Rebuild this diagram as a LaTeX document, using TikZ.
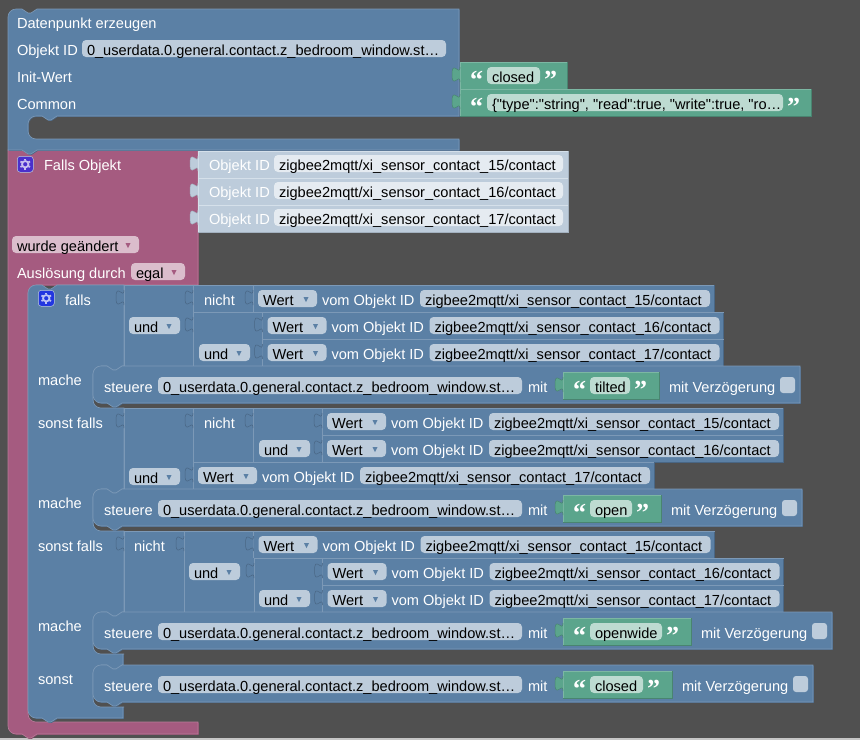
\documentclass[tikz,border=0pt]{standalone}
\usepackage{fontspec}
\setmainfont{Liberation Sans}
\newfontfamily\zitatfont{Liberation Serif}
\newfontfamily\rohfont{Liberation Sans}
\usepackage{tikz}
\usetikzlibrary{positioning}

\definecolor{grund}{HTML}{505050}
\definecolor{blau}{HTML}{5B80A5}
\definecolor{blauhell}{HTML}{7C99B7}
\definecolor{blaudunkel}{HTML}{496684}
\definecolor{rosa}{HTML}{A55B80}
\definecolor{rosahell}{HTML}{B77C99}
\definecolor{rosadunkel}{HTML}{844966}
\definecolor{gruen}{HTML}{5BA58C}
\definecolor{gruenhell}{HTML}{7CB7A3}
\definecolor{gruendunkel}{HTML}{498470}
\definecolor{objekt}{HTML}{BDCCDB}
\definecolor{objekthell}{HTML}{D5E0EA}
\definecolor{objektdunkel}{HTML}{A3B1BF}
\definecolor{feldblau}{HTML}{BDCCDB}
\definecolor{feldhell}{HTML}{E5EBF1}
\definecolor{feldgruen}{HTML}{BDDBD1}
\definecolor{feldrosa}{HTML}{DBBDCC}
\definecolor{knopfviolett}{HTML}{4A30CC}
\definecolor{knopfblau}{HTML}{2236E0}

% Wertblock: Farbe, x, y, x2, y2
\newcommand{\wertblock}[5]{
	\fill[#1] (#2,#3) rectangle (#4,#5);
	\draw[#1dunkel, line width=.8pt] (#2,#5) -- (#4,#5) -- (#4,#3);
	\draw[#1hell, line width=.8pt] (#2,#5) -- (#2,#3) -- (#4,#3);
	\draw[fill=#1, draw=#1dunkel, line width=.5pt] (#2,#3+5) .. controls (#2,#3+15) and (#2-8,#3-3) .. (#2-8,#3+12.5)
	.. controls (#2-8,#3+28) and (#2,#3+10) .. (#2,#3+20);
}
% Auswahlfeld: Name, x, Grundlinie, Breite, Feldfarbe, Pfeilfarbe, Text
\newcommand{\auswahl}[7]{
	\node[feld, fill=#5] (#1) at (#2,#3) {\makebox[\dimexpr#4pt-10pt\relax][l]{#7}};
	\fill[#6] (#2+#4-13.5,#3-8) -- ++(5,0) -- ++(-2.5,5) -- cycle;
}
% Objektzeile: Nummer, x, y, Sensor
\newcommand{\wertzeile}[4]{
	\wertblock{blau}{#2}{#3}{#2+461}{#3+27}
	\auswahl{wert#1}{#2+5}{#3+20}{59}{feldblau}{blau}{Wert}
	\node[schrift] (vom#1) at (#2+69,#3+20) {vom Objekt ID};
	\node[feld, fill=feldblau] (pfad#1) at (#2+167,#3+20) {\makebox[280pt][l]{zigbee2mqtt/xi\_sensor\_contact\_#4/contact}};
}
% Textblock: Name, x, y, Feldbreite, x2, Text
\newcommand{\textblock}[6]{
	\wertblock{gruen}{#2}{#3}{#5}{#3+27}
	\node[zitat] (#1auf) at (#2+10,#3+26) {“};
	\node[feld, fill=feldgruen] (#1) at (#2+27,#3+20) {\makebox[\dimexpr#4pt-10pt\relax][l]{#6}};
	\node[zitat] (#1zu) at (#2+27+#4+4,#3+26) {”};
}
% Steuern: Nummer, y, x des gruenen Endes, Feldbreite, Text
\newcommand{\steuere}[5]{
	\draw[block=blau] (93,#2+8) [ecke_ol] -- (107,#2) [kerbe] -- (#3+141,#2) -- (#3+141,#2+37)
	-- (122,#2+37) [kerbe_links] -- (101,#2+37) [ecke_ul] -- cycle;
	\node[schrift] (steuere#1) at (104,#2+26) {steuere};
	\node[feld, fill=feldblau] (ziel#1) at (158,#2+26) {\makebox[354pt][l]{0\_userdata.0.general.contact.z\_bedroom\_window.st…}};
	\node[schrift] (mit#1) at (528,#2+26) {mit};
	\textblock{wert_s#1}{563}{#2+6}{#4}{#3}{#5}
	\node[schrift] (verz#1) at (#3+10,#2+26) {mit Verzögerung};
	\draw[fill=feldblau, draw=none, rounded corners=3pt] (#3+121,#2+11) rectangle (#3+136,#2+27);
}
% Zahnrad: Name, x, y, Farbe
\newcommand{\zahnrad}[4]{
	\node[draw=feldblau, fill=#4, rounded corners=3pt, minimum size=16pt, line width=.5pt, inner sep=0pt, anchor=north west] (#1) at (#2,#3) {};
	\draw[white!70!#4, line width=1.8pt] (#1) circle[radius=3.2];
	\foreach \w in {30,90,...,330} {
		\draw[white!70!#4, line width=1.8pt] (#1) ++(\w:3.8) -- ++(\w:1.7);
	}
}

\begin{document}
\begin{tikzpicture}[x=1pt, y=-1pt,
	every node/.style={font=\fontsize{14.6}{16}\selectfont},
	% --- Stile ---
	schrift/.style={text=white, anchor=base west, inner sep=0pt, outer sep=0pt},
	feld/.style={
		anchor=base west,
		rounded corners=4pt,
		inner xsep=5pt,
		inner ysep=0pt,
		outer sep=0pt,
		text height=15pt,
		text depth=2pt,
		text=black
	},
	zitat/.style={text=white, anchor=base west, inner sep=0pt, font=\zitatfont\bfseries\fontsize{26}{26}\selectfont},
	block/.style={
		preaction={fill=#1dunkel, transform canvas={xshift=.8pt, yshift=-.8pt}},
		fill=#1,
		draw=#1hell,
		line width=.6pt
	},
	kerbe/.style={insert path={-- ++(6,4) -- ++(3,0) -- ++(6,-4)}},
	kerbe_links/.style={insert path={-- ++(-6,4) -- ++(-3,0) -- ++(-6,-4)}},
	ecke_ol/.style={insert path={arc[start angle=180, end angle=270, radius=8]}},
	ecke_ul/.style={insert path={arc[start angle=90, end angle=180, radius=8]}},
	ecke_il/.style={insert path={arc[start angle=270, end angle=180, radius=8]}},
	ecke_iu/.style={insert path={arc[start angle=180, end angle=90, radius=8]}},
	% Aussparung im falls-Block
	luecke/.style={insert path={-- (122,#1) [kerbe_links] -- (101,#1) [ecke_il] -- (93,#1+34) [ecke_iu] -- (124,#1+42)}}
	]
	% 1. Hintergrund
	\fill[grund] (0,0) rectangle (860,740);
	\useasboundingbox (0,0) rectangle (860,740);
	\fill[gray!45] (0,738) rectangle (860,740);

	% 2. Block "Falls Objekt"
	\draw[block=rosa] (8,150) -- (198,150) -- (198,285) -- (36,285) [ecke_il] -- (28,714) [ecke_iu]
	-- (198,722) -- (198,734) -- (37,734) [kerbe_links] -- (16,734) [ecke_ul] -- cycle;

	% 3. Block "Datenpunkt erzeugen"
	\draw[block=blau] (8,17) [ecke_ol] -- (22,9) [kerbe] -- (459,9) -- (459,116) -- (57,116) [kerbe_links]
	-- (36,116) [ecke_il] -- (28,131) [ecke_iu] -- (459,139) -- (459,150) -- (37,150) [kerbe_links] -- (8,150) -- cycle;
	\node[schrift] (titel) at (17,28) {Datenpunkt erzeugen};
	\node[schrift] (objektid) at (17,55) {Objekt ID};
	\node[feld, fill=feldblau] (objektwert) at (82,55) {\makebox[354pt][l]{0\_userdata.0.general.contact.z\_bedroom\_window.st…}};
	\node[schrift] (initwert) at (17,82) {Init-Wert};
	\node[schrift] (common) at (17,109) {Common};
	\textblock{init}{460}{62}{53}{567}{closed}
	\textblock{rechte}{460}{89}{296}{811}{\rohfont\{"type":"string", "read":true, "write":true, "ro…}

	% 4. Inhalt von "Falls Objekt"
	\zahnrad{zahnrad_falls}{17}{156}{knopfviolett}
	\node[schrift] (falls_objekt) at (44,170) {Falls Objekt};
	\foreach \nr/\zy in {15/151, 16/178, 17/205} {
		\wertblock{objekt}{198}{\zy}{568}{\zy+27}
		\node[schrift] (oid\nr) at (209,\zy+19) {Objekt ID};
		\node[feld, fill=feldhell] (opfad\nr) at (274,\zy+19) {\makebox[279pt][l]{zigbee2mqtt/xi\_sensor\_contact\_\nr/contact}};
	}
	\auswahl{geaendert}{12}{251}{127}{feldrosa}{rosa}{wurde geändert}
	\node[schrift] (ausloesung) at (17,278) {Auslösung durch};
	\auswahl{egal}{131}{278}{54}{feldrosa}{rosa}{egal}

	% 5. Block "falls"
	\draw[block=blau] (28,293) [ecke_ol] -- (42,285) [kerbe] -- (124,285) -- (124,366) [luecke=366]
	-- (124,489) [luecke=489] -- (124,612) [luecke=612] -- (123,654) -- (123,665) [luecke=665]
	-- (123,707) -- (123,718) -- (57,718) [kerbe_links] -- (36,718) [ecke_ul] -- cycle;
	\zahnrad{zahnrad_wenn}{38}{290}{knopfblau}
	\node[schrift] (falls) at (65,305) {falls};
	\node[schrift] (mache1) at (38,385) {mache};
	\node[schrift] (sonstfalls1) at (38,428) {sonst falls};
	\node[schrift] (mache2) at (38,508) {mache};
	\node[schrift] (sonstfalls2) at (38,551) {sonst falls};
	\node[schrift] (mache3) at (38,631) {mache};
	\node[schrift] (sonst) at (38,684) {sonst};

	% 6. Bedingung 1
	\wertblock{blau}{124}{285}{193}{366}
	\auswahl{und1}{129}{332}{51}{feldblau}{blau}{und}
	\wertblock{blau}{193}{285}{253}{312}
	\node[schrift] (nicht1) at (204,305) {nicht};
	\wertzeile{1}{253}{285}{15}
	\wertblock{blau}{193}{312}{263}{366}
	\auswahl{und2}{199}{359}{51}{feldblau}{blau}{und}
	\wertzeile{2}{262.5}{312}{16}
	\wertzeile{3}{262.5}{339}{17}

	% 7. Bedingung 2
	\wertblock{blau}{124}{408}{193}{489}
	\auswahl{und3}{129}{483}{51}{feldblau}{blau}{und}
	\wertblock{blau}{193}{408}{253}{462}
	\node[schrift] (nicht2) at (204,428) {nicht};
	\wertblock{blau}{253}{408}{322}{462}
	\auswahl{und4}{259}{455}{51}{feldblau}{blau}{und}
	\wertzeile{4}{322}{408}{15}
	\wertzeile{5}{322}{435}{16}
	\wertzeile{6}{193}{462}{17}

	% 8. Bedingung 3
	\wertblock{blau}{124}{531}{184}{612}
	\node[schrift] (nicht3) at (134,551) {nicht};
	\wertblock{blau}{184}{531}{254}{612}
	\auswahl{und5}{189}{578}{51}{feldblau}{blau}{und}
	\wertzeile{7}{253.5}{531}{15}
	\wertblock{blau}{254}{558}{323}{612}
	\auswahl{und6}{259}{605}{51}{feldblau}{blau}{und}
	\wertzeile{8}{322.5}{558}{16}
	\wertzeile{9}{322.5}{585}{17}

	% 9. Anweisungen
	\steuere{1}{366}{659}{40}{tilted}
	\steuere{2}{489}{661}{42}{open}
	\steuere{3}{612}{691}{72}{openwide}
	\steuere{4}{665}{672}{53}{closed}
\end{tikzpicture}
\end{document}
